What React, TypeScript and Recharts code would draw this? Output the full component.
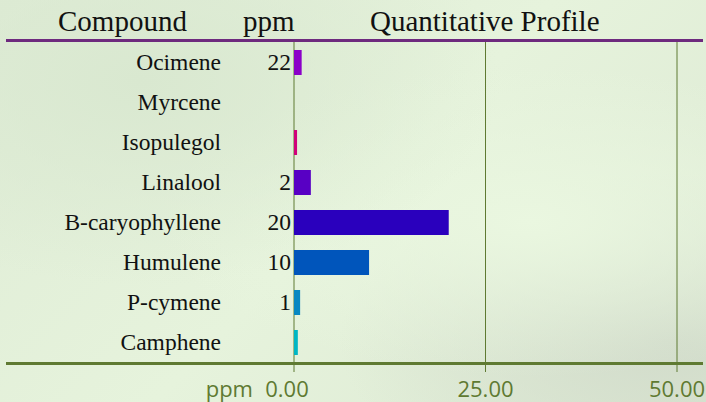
import React from 'react';
import { BarChart, Bar, XAxis, YAxis, CartesianGrid, Cell } from 'recharts';

// Compounds, top to bottom
const compounds = ['Ocimene', 'Myrcene', 'Isopulegol', 'Linalool', 'B-caryophyllene', 'Humulene', 'P-cymene', 'Camphene'];
// ppm column text (blank where the table shows nothing)
const ppmLabels = ['22', '', '', '2', '20', '10', '1', ''];
// bar lengths
const profileValues = [1.0, 0, 0.4, 2.2, 20.2, 9.8, 0.8, 0.5];
const barColors = ['#8b00c8', '#888888', '#d0007a', '#5800c4', '#2a00bd', '#0055bb', '#0888c2', '#00b6c4'];
const xTicks = [0, 25, 50];

const data = compounds.map((name, i) => ({ name, ppm: ppmLabels[i], value: profileValues[i] }));

const GREEN = '#5f7a32';
const PURPLE = '#6e2a7e';
const SERIF = 'Liberation Serif';
const SANS = 'Open Sans';

const CompoundTick = (props: any) => {
  const { y, payload, index } = props;
  return (
    <g>
      <text x={221} y={y} dy={8} textAnchor="end" fontSize={23.5} fill="#111" fontFamily={SERIF}>
        {payload.value}
      </text>
      <text x={291} y={y} dy={8} textAnchor="end" fontSize={23.5} fill="#111" fontFamily={SERIF}>
        {ppmLabels[index]}
      </text>
    </g>
  );
};

const ProfileTick = (props: any) => {
  const { x, y, payload } = props;
  const isZero = payload.value === 0;
  return (
    <g>
      {isZero && (
        <text x={x - 41} y={y} dy={23} textAnchor="end" fontSize={22} fill={GREEN} fontFamily={SANS}>
          ppm
        </text>
      )}
      <text x={isZero ? x - 7 : x} y={y} dy={23} textAnchor="middle" fontSize={22} fill={GREEN} fontFamily={SANS}>
        {payload.value.toFixed(2)}
      </text>
    </g>
  );
};

export default function App() {
  return (
    <div
      style={{
        position: 'fixed',
        left: 0,
        top: 0,
        width: 706,
        height: 402,
        overflow: 'hidden',
        background:
          'radial-gradient(ellipse at 20% 20%, #d9e8d0 0%, rgba(217,232,208,0) 45%), radial-gradient(ellipse at 75% 55%, #eaf7e0 0%, rgba(234,247,224,0) 50%), radial-gradient(ellipse at 95% 85%, #d2dccb 0%, rgba(210,220,203,0) 35%), linear-gradient(135deg, #dfecd6 0%, #e6f3dc 50%, #dce8d3 100%)',
      }}
    >
      {/* header row */}
      <div style={{ position: 'absolute', top: 4, left: 0, width: 706, fontFamily: SERIF, fontSize: 29, color: '#111', lineHeight: '34px' }}>
        <span style={{ position: 'absolute', left: 58 }}>Compound</span>
        <span style={{ position: 'absolute', left: 243 }}>ppm</span>
        <span style={{ position: 'absolute', left: 370 }}>Quantitative Profile</span>
      </div>
      <div style={{ position: 'absolute', left: 6, top: 39, width: 697, height: 3, background: PURPLE }} />
      <div style={{ position: 'absolute', left: 6, top: 362, width: 697, height: 3, background: GREEN, zIndex: 2 }} />
      <div style={{ position: 'absolute', left: 0, top: 0 }}>
        <BarChart
          width={706}
          height={402}
          data={data}
          layout="vertical"
          margin={{ top: 42, right: 29, bottom: 0, left: 0 }}
        >
          <CartesianGrid horizontal={false} stroke={GREEN} strokeWidth={1} />
          <XAxis
            type="number"
            domain={[0, 50]}
            ticks={xTicks}
            axisLine={false}
            tickLine={{ stroke: GREEN, strokeWidth: 1 }}
            tickSize={10}
            tick={<ProfileTick />}
            height={40}
            interval={0}
          />
          <YAxis
            type="category"
            dataKey="name"
            width={294}
            axisLine={false}
            tickLine={false}
            tick={<CompoundTick />}
            interval={0}
          />
          <Bar dataKey="value" barSize={25} isAnimationActive={false}>
            {data.map((d, i) => (
              <Cell key={d.name} fill={barColors[i]} />
            ))}
          </Bar>
        </BarChart>
      </div>
    </div>
  );
}
